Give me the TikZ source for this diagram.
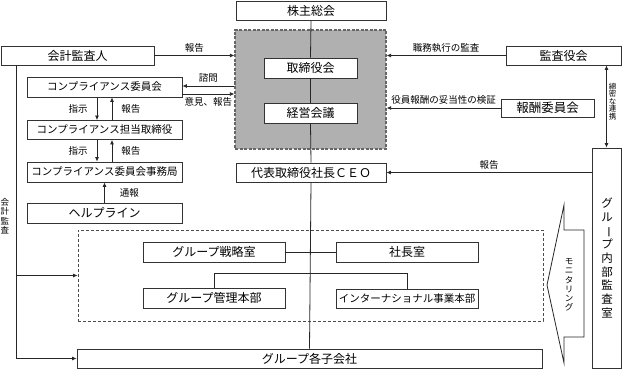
\documentclass[tikz,border=0pt]{standalone}
\usepackage{fontspec}
\usepackage{graphicx}
\setmainfont{Noto Sans CJK JP}
\usetikzlibrary{arrows.meta}
\newcommand{\vbar}{\rotatebox[origin=c]{-90}{ー}}
\begin{document}
\begin{tikzpicture}[x=1pt,y=-1pt,
  line/.style={draw=black!85, line width=0.8pt},
  arr/.style={line, -{Latex[length=4.5pt,width=4pt]}},
  darr/.style={line, {Latex[length=4.5pt,width=4pt]}-{Latex[length=4.5pt,width=4pt]}},
  box/.style={draw=black!80, line width=0.8pt, fill=white, inner sep=0pt, font=\fontsize{12}{14}\selectfont},
  sbox/.style={box, font=\fontsize{10.5}{12}\selectfont},
  lbl/.style={inner sep=0pt, font=\fontsize{9.5}{11}\selectfont},
  vtext/.style={inner sep=0pt, align=center}]
\useasboundingbox (0,0) rectangle (622,369);

% central column
\node[box, minimum width=150pt, minimum height=19pt] (share) at (311,10.5) {株主総会};
\node[draw=black!60, dash pattern=on 3pt off 1.5pt, line width=1.2pt, fill=black!31,
      minimum width=151pt, minimum height=119pt, inner sep=0pt] (gray) at (310.5,89.5) {};
\node[box, minimum width=93pt, minimum height=20pt] (board) at (310.5,68) {取締役会};
\node[box, minimum width=93pt, minimum height=20pt] (mgmt) at (310.5,113) {経営会議};
\node[box, minimum width=150pt, minimum height=19pt] (ceo) at (311,172.5) {代表取締役社長ＣＥＯ};

% left column
\node[box, minimum width=153pt, minimum height=19pt] (acct) at (77.5,55.5) {会計監査人};
\node[sbox, minimum width=155pt, minimum height=20pt] (comp) at (104.5,87) {コンプライアンス委員会};
\node[sbox, minimum width=155pt, minimum height=19pt] (compdir) at (104.5,130) {コンプライアンス担当取締役};
\node[sbox, minimum width=155pt, minimum height=20pt] (compsec) at (104.5,172) {コンプライアンス委員会事務局};
\node[box, minimum width=155pt, minimum height=20pt] (help) at (104.5,213) {ヘルプライン};

% lower dashed group
\node[draw=black!70, dash pattern=on 3pt off 2pt, line width=0.8pt,
      minimum width=465pt, minimum height=91pt, inner sep=0pt] (grp) at (310.5,275.5) {};
\node[box, minimum width=142pt, minimum height=20pt] (strat) at (214,252) {グループ戦略室};
\node[box, minimum width=142pt, minimum height=20pt] (admin) at (214,298) {グループ管理本部};
\node[box, minimum width=142pt, minimum height=20pt] (pres) at (407,252) {社長室};
\node[sbox, minimum width=142pt, minimum height=19pt] (intl) at (407,298.5) {インターナショナル事業本部};
\node[box, minimum width=465pt, minimum height=19pt] (subs) at (309.5,358.5) {グループ各子会社};

% right column
\node[box, minimum width=115pt, minimum height=19pt] (audit) at (563.5,55.5) {監査役会};
\node[box, minimum width=93pt, minimum height=18pt, font=\fontsize{12.5}{14}\selectfont] (remu) at (547.5,108) {報酬委員会};
\node[box, minimum width=29pt, minimum height=220pt] (internal) at (606.5,258) {};
\node[vtext, font=\fontsize{11.5}{13.7}\selectfont] (internaltxt) at (607,258)
  {グ\\ル\\\vbar\\プ\\内\\部\\監\\査\\室};

% main vertical line
\draw[line] (share.south) -- (board.north);
\draw[line] (board.south) -- (mgmt.north);
\draw[line] (mgmt.south) -- (ceo.north);
\draw[line] (ceo.south) -- (subs.north);
\coordinate (br) at (311,273);
\draw[line] (strat.east) -- (pres.west);
\draw[line] (admin.north) -- (admin.north |- br) -- (intl.north |- br) -- (intl.north);

% left connectors
\draw[arr] (acct.east) -- (acct.east -| gray.west) node[lbl, midway, above=3pt] {報告};
\draw[arr] ([yshift=1pt]comp.east -| gray.west) -- ([yshift=1pt]comp.east) node[lbl, midway, above=3pt] {諮問};
\draw[arr] ([yshift=-7pt]comp.east) -- ([yshift=-7pt]comp.east -| gray.west) node[lbl, midway, below=3pt] {意見、報告};
\draw[arr] ([xshift=-7.5pt]comp.south) -- ([xshift=-7.5pt]compdir.north) node[lbl, midway, left=9pt] {指示};
\draw[arr] ([xshift=7.5pt]compdir.north) -- ([xshift=7.5pt]comp.south) node[lbl, midway, right=9pt] {報告};
\draw[arr] ([xshift=-7.5pt]compdir.south) -- ([xshift=-7.5pt]compsec.north) node[lbl, midway, left=9pt] {指示};
\draw[arr] ([xshift=7.5pt]compsec.north) -- ([xshift=7.5pt]compdir.south) node[lbl, midway, right=9pt] {報告};
\draw[arr] (help.north) -- (compsec.north |- compsec.south) node[lbl, midway, right=15pt] {通報};
\coordinate (acctdown) at ([xshift=15.5pt]acct.south west);
\draw[arr] (acctdown) -- (acctdown |- subs.west) -- (subs.west);
\draw[arr] (acctdown |- grp.west) -- (grp.west);
\node[vtext, font=\fontsize{8.5}{9.5}\selectfont] (acctlbl) at (5,216) {会\\計\\監\\査};

% right connectors
\draw[arr] (audit.west) -- (audit.west -| gray.east) node[lbl, midway, above=3pt] {職務執行の監査};
\draw[arr] (remu.west) -- (remu.west -| gray.east) node[lbl, midway, above=3pt] {役員報酬の妥当性の検証};
\draw[darr] (internal.north |- audit.south) -- (internal.north);
\node[vtext, font=\fontsize{7.5}{7.5}\selectfont] (renkei) at (612.5,101.5) {綿\\密\\な\\連\\携};
\draw[arr] (ceo.east -| internal.west) -- (ceo.east) node[lbl, pos=0.5, above=3pt] {報告};

% monitoring block arrow
\draw[line, fill=white] (584,230) -- (564,230) -- (564,205) -- (547,285) -- (564,363) -- (564,337) -- (584,337) -- cycle;
\node[vtext, font=\fontsize{8.5}{9.3}\selectfont] (monitor) at (569,285) {モ\\ニ\\タ\\リ\\ン\\グ};
\end{tikzpicture}
\end{document}
